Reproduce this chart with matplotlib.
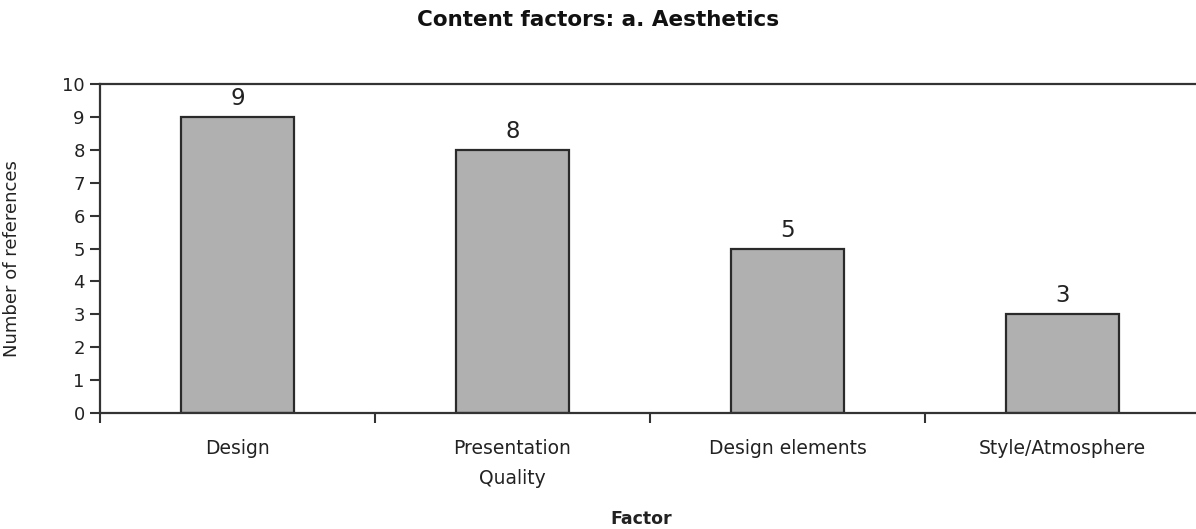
import numpy as np
import matplotlib.pyplot as plt

factors = ['Design', 'Presentation\nQuality', 'Design elements', 'Style/Atmosphere']
refs = [9, 8, 5, 3]

plt.rcParams['font.family'] = ['DejaVu Sans']

fig = plt.figure(figsize=(11.96, 5.29), dpi=100)
ax = fig.add_axes([100/1196, 116/529, 1100/1196, 329/529])

x = np.arange(len(factors))
ax.bar(x, refs, width=0.41, color='#b0b0b0', edgecolor='#2a2a2a', linewidth=1.6)
for xi, v in zip(x, refs):
    ax.text(xi, v + 0.36, str(v), ha='center', va='baseline', fontsize=16.5, color='#222222')

ax.set_xlim(-0.5, 3.5)
ax.set_ylim(0, 10)
ax.set_yticks(range(11))
ax.set_xticks(x)
ax.set_xticklabels(factors, fontsize=13.5, color='#222222', linespacing=1.68)
ax.set_xticks(np.arange(-0.5, 3.6, 1), minor=True)
ax.tick_params(axis='x', which='major', length=0, pad=19)
ax.tick_params(axis='x', which='minor', length=7, width=1.5, color='#333333', direction='out')
ax.tick_params(axis='y', length=7, width=1.5, color='#333333', labelsize=13, labelcolor='#222222', pad=4)

for s in ['left', 'bottom', 'top']:
    ax.spines[s].set_linewidth(1.6)
    ax.spines[s].set_color('#333333')
ax.spines['right'].set_visible(False)

ax.set_ylabel('Number of references', fontsize=13, color='#222222')
ax.yaxis.set_label_coords(-79/1100, 0.47)

fig.text(641/1196, 1 - 519/529, 'Factor', fontsize=12.5, fontweight='bold', ha='center', va='center', color='#222222')
fig.text(598/1196, 1 - 20/529, 'Content factors: a. Aesthetics', fontsize=15.5, fontweight='bold',
         ha='center', va='center', color='#111111')

fig.savefig('out.png', dpi=100)
